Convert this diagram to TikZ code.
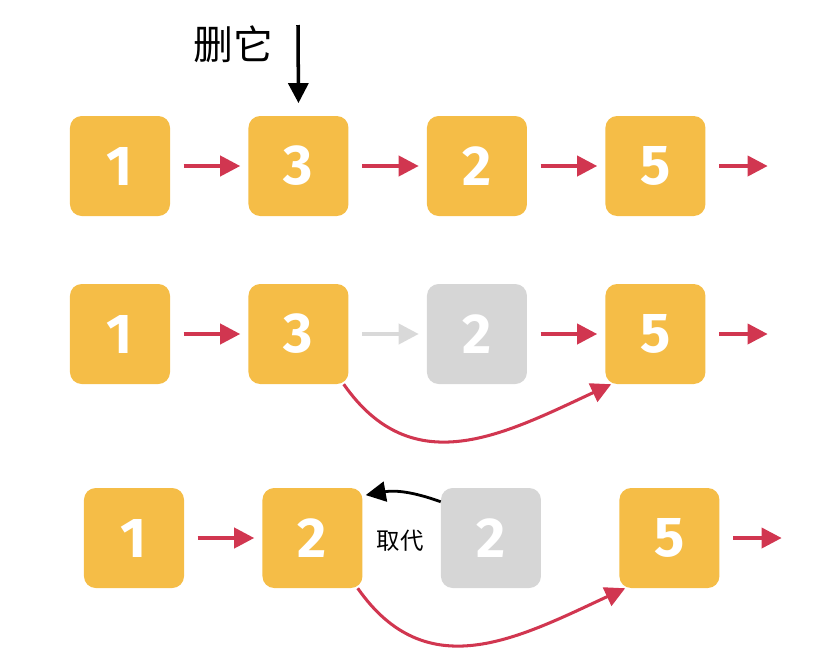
\documentclass[tikz,border=0pt]{standalone}
\usepackage{fontspec}
\setsansfont{Fira Sans}
\newfontfamily\cjk{Noto Sans CJK SC}
\usetikzlibrary{arrows.meta, positioning}

\definecolor{boxgold}{RGB}{245,189,71}
\definecolor{linkred}{RGB}{209,54,80}

\begin{document}
\begin{tikzpicture}[
    x=0.03cm, y=-0.03cm,
    cell/.style={rectangle, rounded corners=10pt, fill=boxgold,
      minimum size=3cm, inner sep=0pt, text=white,
      font=\sffamily\bfseries\fontsize{48}{48}\selectfont},
    ghost/.style={cell, fill=black!16},
    arr/.style={-{Triangle[length=6mm, width=6mm]}, line width=3.2pt,
      draw=linkred, shorten <=4mm, shorten >=2.4mm},
    ghostarr/.style={arr, draw=black!15},
    detour/.style={-{Triangle[length=6mm, width=6mm]}, line width=2.6pt,
      draw=linkred},
    hint/.style={-{Triangle[length=6mm, width=6mm]}, line width=3pt, black}
  ]
    \useasboundingbox (0,0) rectangle (830,660);

    % row 1
    \node[cell] (a1) at (120,166) {1};
    \node[cell, right=2.34cm of a1] (a2) {3};
    \node[cell, right=2.34cm of a2] (a3) {2};
    \node[cell, right=2.34cm of a3] (a4) {5};
    \coordinate[right=2.1cm of a4] (a5);
    \node[font=\cjk\fontsize{34}{34}\selectfont] (del) at (233,44) {删它};
    \coordinate (top) at (298,25);

    \draw[arr] (a1) -- (a2);
    \draw[arr] (a2) -- (a3);
    \draw[arr] (a3) -- (a4);
    \draw[arr] (a4) -- (a5);
    \draw[hint] (top) -- ([yshift=3.8mm]a2.north);

    % row 2
    \node[cell] (b1) at (120,334) {1};
    \node[cell, right=2.34cm of b1] (b2) {3};
    \node[ghost, right=2.34cm of b2] (b3) {2};
    \node[cell, right=2.34cm of b3] (b4) {5};
    \coordinate[right=2.1cm of b4] (b5);

    \draw[arr] (b1) -- (b2);
    \draw[ghostarr] (b2) -- (b3);
    \draw[arr] (b3) -- (b4);
    \draw[arr] (b4) -- (b5);
    \draw[detour] ([xshift=-0.15cm]b2.south east) to[out=-55, in=205, looseness=1.15]
      ([xshift=0.18cm]b4.south west);

    % row 3
    \node[cell] (c1) at (134,538) {1};
    \node[cell, right=2.34cm of c1] (c2) {2};
    \node[ghost, right=2.34cm of c2] (c3) {2};
    \node[cell, right=2.34cm of c3] (c4) {5};
    \coordinate[right=2.1cm of c4] (c5);
    \node[font=\cjk\fontsize{20}{20}\selectfont] (swap) at (400,541) {取代};

    \draw[arr] (c1) -- (c2);
    \draw[arr] (c4) -- (c5);
    \draw[hint, line width=2.4pt] ([yshift=-0.42cm]c3.north west) to[out=160, in=10]
      ([xshift=0.09cm, yshift=-0.22cm]c2.north east);
    \draw[detour] ([xshift=-0.15cm]c2.south east) to[out=-55, in=205, looseness=1.15]
      ([xshift=0.18cm]c4.south west);
  \end{tikzpicture}
\end{document}
